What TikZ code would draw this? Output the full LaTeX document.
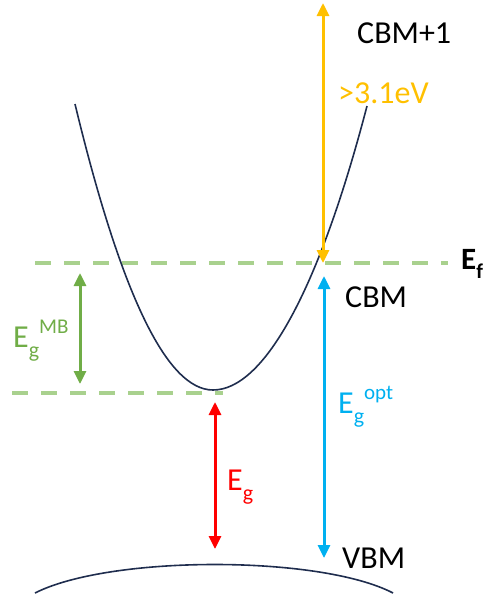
\documentclass[tikz,border=0pt]{standalone}
\usepackage{fontspec}
\setmainfont{Carlito}
\usetikzlibrary{arrows.meta}
\definecolor{navy}{HTML}{1F2D4E}
\definecolor{lgreen}{HTML}{A9D18E}
\definecolor{dgreen}{HTML}{70AD47}
\definecolor{sky}{HTML}{00B0F0}
\definecolor{gold}{HTML}{FFC000}
\definecolor{redc}{HTML}{FF0000}
\tikzset{
  band/.style={draw=navy, line width=1.6pt},
  level/.style={draw=lgreen, line width=4.5pt, dash pattern=on 16pt off 13pt},
  gap/.style={line width=3pt, {Triangle[length=13pt,width=12pt]}-{Triangle[length=13pt,width=12pt]}},
  lbl/.style={inner sep=0pt, anchor=base west, font=\fontsize{32}{38}\selectfont},
}
\newcommand{\subsc}[1]{\raisebox{-0.32em}{\fontsize{22}{22}\selectfont #1}}
\newcommand{\supsc}[1]{\raisebox{0.42em}{\fontsize{21}{21}\selectfont #1}}
\begin{document}
\begin{tikzpicture}[x=1pt,y=-1pt]
\useasboundingbox (0,0) rectangle (487,598);
% levels
\coordinate (ef1) at (35,263);
\coordinate (ef2) at (448,263);
\coordinate (mb1) at (12,393);
\coordinate (mb2) at (223,393);
\draw[level] (ef1) -- (ef2);
\draw[level] (mb1) -- (mb2);
% conduction band
\draw[band] (75,104) .. controls (121,294.7) and (167,390) .. (213,390)
            .. controls (264,390) and (319,290) .. (367,106);
% valence band
\draw[band] (35,593) .. controls (110,555) and (320,555) .. (393,593);
% arrows
\coordinate (gt) at (80,273);
\coordinate (gb) at (80,384);
\draw[gap, dgreen] (gt) -- (gb);
\coordinate (rt) at (215,402);
\coordinate (rb) at (215,549);
\draw[gap, redc] (rt) -- (rb);
\coordinate (bt) at (324,276);
\coordinate (bb) at (324,558);
\draw[gap, sky] (bt) -- (bb);
\coordinate (yt) at (323,3);
\coordinate (yb) at (323,263);
\draw[gap, gold] (yt) -- (yb);
% labels
\node[lbl, text=black] (cbm1) at (357,43) {CBM+1};
\node[lbl, text=gold] (ev) at (338,103) {>3.1eV};
\node[lbl, text=black] (cbm) at (345,307) {CBM};
\node[lbl, text=black] (vbm) at (342,568) {VBM};
\node[lbl, text=black, font=\fontsize{31}{36}\bfseries\selectfont] (ef) at (461,269) {E\raisebox{-0.3em}{\fontsize{21}{21}\bfseries\selectfont f}};
\node[lbl, text=dgreen] (egmb) at (13,347) {E\subsc{g}\supsc{MB}};
\node[lbl, text=redc] (eg) at (227,490) {E\subsc{g}};
\node[lbl, text=sky] (egopt) at (338,413) {E\subsc{g}\supsc{opt}};
\end{tikzpicture}
\end{document}
